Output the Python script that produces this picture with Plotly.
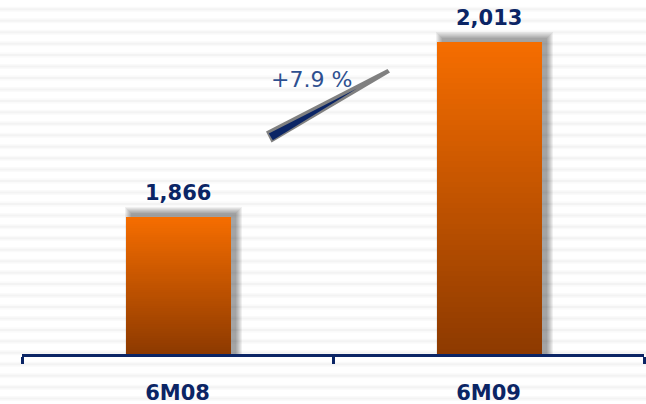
import plotly.graph_objects as go

# ---- data ----
categories = ["6M08", "6M09"]
values = [1866, 2013]
value_labels = ["1,866", "2,013"]
growth_label = "+7.9 %"

# ---- style ----
W, H = 646, 404
ML, MR, MT, MB = 22, 2, 0, 50
Y_MIN, Y_MAX = 1751, 2048
NAVY = "#0B2565"
FONT = "DejaVu Sans"
BAR_W = 0.34
BAR_OFF = -0.167
N_SLICES = 60
C_BOT = (0x8E, 0x3A, 0x00)
C_TOP = (0xF5, 0x6D, 0x00)

plot_w = W - ML - MR
plot_h = H - MT - MB
cat_per_px = 2.0 / plot_w
val_per_px = (Y_MAX - Y_MIN) / plot_h


def px2paper(px, py):
    return (px - ML) / plot_w, (H - MB - py) / plot_h


fig = go.Figure()

# soft drop shadows (layered, translucent)
for r in range(7):
    fig.add_trace(go.Bar(
        x=categories,
        y=[v + (4 + r) * val_per_px - Y_MIN for v in values],
        base=Y_MIN,
        width=BAR_W + 2 * r * cat_per_px,
        offset=BAR_OFF + (5 - r) * cat_per_px,
        marker=dict(color="rgba(0,0,0,0.06)", line=dict(width=0)),
        hoverinfo="skip", showlegend=False,
    ))

# gradient bars: each slice covers from its base up to the bar top
for k in range(N_SLICES):
    t = k / (N_SLICES - 1)
    col = "rgb(%d,%d,%d)" % tuple(round(a + (b - a) * t) for a, b in zip(C_BOT, C_TOP))
    bases = [Y_MIN + (v - Y_MIN) * k / N_SLICES for v in values]
    fig.add_trace(go.Bar(
        x=categories,
        y=[v - b for v, b in zip(values, bases)],
        base=bases,
        width=BAR_W, offset=BAR_OFF,
        marker=dict(color=col, line=dict(width=0)),
        hoverinfo="skip", showlegend=False,
    ))

# value labels
for c, v, lab in zip(categories, values, value_labels):
    fig.add_annotation(x=c, y=v, text=lab, showarrow=False, yanchor="middle",
                       yshift=24, xshift=0,
                       font=dict(family=FONT, size=21, color=NAVY, weight="bold"))

# background stripes
shapes = []
y = 9.3
while y < H:
    _, py = px2paper(0, y)
    shapes.append(dict(type="line", xref="paper", yref="paper", x0=-0.05, x1=1.05,
                       y0=py, y1=py, line=dict(color="#FAFAFA", width=5), layer="below"))
    shapes.append(dict(type="line", xref="paper", yref="paper", x0=-0.05, x1=1.05,
                       y0=py, y1=py, line=dict(color="#F3F3F3", width=2), layer="below"))
    y += 11.45


def path(pts):
    s = ""
    for i, (px, py) in enumerate(pts):
        x, yy = px2paper(px, py)
        s += ("M" if i == 0 else "L") + "%.5f,%.5f " % (x, yy)
    return s + "Z"


shapes.append(dict(type="path", xref="paper", yref="paper",
                   path=path([(266, 131.5), (271.5, 142.5), (390, 72.5), (387.5, 69)]),
                   fillcolor="#808080", line=dict(width=0), layer="above"))
shapes.append(dict(type="path", xref="paper", yref="paper",
                   path=path([(268.8, 133.6), (272.8, 140.2), (357, 88.5)]),
                   fillcolor=NAVY, line=dict(width=0), layer="above"))

gx, gy = px2paper(311, 79)
fig.add_annotation(xref="paper", yref="paper", x=gx, y=gy, text=growth_label,
                   showarrow=False, xanchor="center", yanchor="middle",
                   font=dict(family=FONT, size=22, color="#2E5090"))

fig.update_layout(
    width=W, height=H,
    margin=dict(l=ML, r=MR, t=MT, b=MB),
    paper_bgcolor="white", plot_bgcolor="rgba(0,0,0,0)",
    barmode="overlay", bargap=0,
    shapes=shapes,
    xaxis=dict(type="category", categoryorder="array", categoryarray=categories,
               range=[-0.5, 1.5], showgrid=False, zeroline=False,
               showline=True, linecolor=NAVY, linewidth=3,
               ticks="outside", tickson="boundaries", ticklen=7, tickwidth=3,
               tickcolor=NAVY, ticklabelstandoff=18,
               tickfont=dict(family=FONT, size=21, color=NAVY, weight="bold")),
    yaxis=dict(range=[Y_MIN, Y_MAX], visible=False, fixedrange=True),
)

fig.write_html("out.html", config={"displayModeBar": False},
               post_script="document.body.style.margin='0px';document.body.style.overflow='hidden';")
